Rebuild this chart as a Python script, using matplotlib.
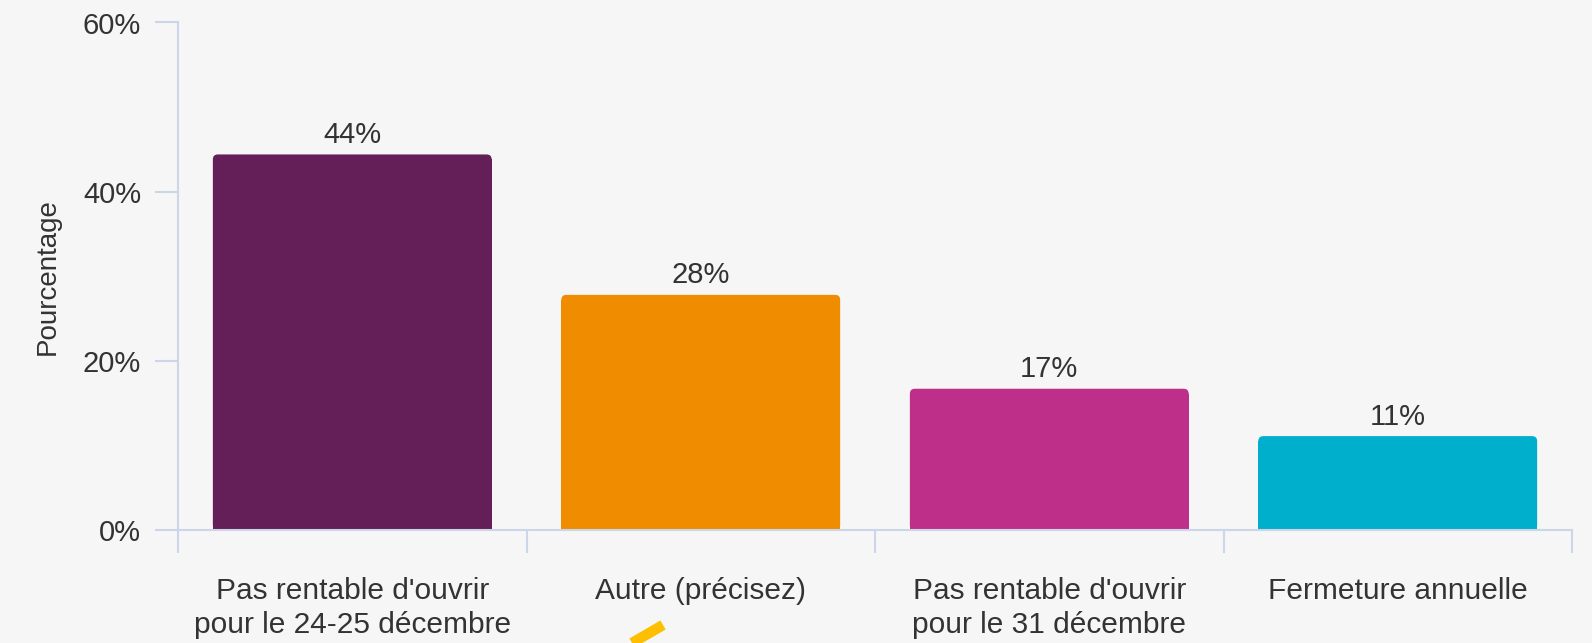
import numpy as np
import matplotlib.pyplot as plt
from matplotlib.patches import FancyBboxPatch, Rectangle
from matplotlib.lines import Line2D
from matplotlib.transforms import IdentityTransform

plt.rcParams['font.family'] = ['Liberation Sans', 'DejaVu Sans']

# data
categories = ["Pas rentable d'ouvrir\npour le 24-25 décembre",
              "Autre (précisez)",
              "Pas rentable d'ouvrir\npour le 31 décembre",
              "Fermeture annuelle"]
values = [44.4, 27.8, 16.7, 11.1]
bar_labels = ["44%", "28%", "17%", "11%"]
colors = ["#641e58", "#f08c00", "#be2f8a", "#00afcc"]
yticks = [0, 20, 40, 60]

axis_col = '#ccd6eb'
text_col = '#333333'

fig = plt.figure(figsize=(15.92, 6.43), dpi=100, facecolor='#f6f6f6')
ax = fig.add_axes([178/1592, 1-530/643, (1572-178)/1592, (530-22.5)/643])
ax.set_facecolor('none')

ax.set_xlim(-0.5, len(values)-0.5)
ax.set_ylim(0, 60)

x = np.arange(len(values))
w = 0.8
rad = 5  # corner radius, px
for xi, v, c, lab in zip(x, values, colors, bar_labels):
    # bar outline in pixels so the rounded top corners stay circular
    (x0, y0) = ax.transData.transform((xi-w/2, 0))
    (x1, y1) = ax.transData.transform((xi+w/2, v))
    ax.add_patch(FancyBboxPatch((x0, y0), x1-x0, y1-y0,
                                boxstyle=f"round,pad=0,rounding_size={rad}",
                                transform=IdentityTransform(), fc=c, ec='none',
                                lw=0, zorder=2, antialiased=True))
    ax.add_patch(Rectangle((x0, y0), x1-x0, (y1-y0)-rad, transform=IdentityTransform(),
                           fc=c, ec='none', lw=0, zorder=2))
    ax.annotate(lab, (xi, v), xytext=(0, 4), textcoords='offset points',
                ha='center', va='bottom', fontsize=21, color=text_col)

for s in ['top', 'right']:
    ax.spines[s].set_visible(False)
for s in ['left', 'bottom']:
    ax.spines[s].set_color(axis_col)
    ax.spines[s].set_linewidth(1.5)
    ax.spines[s].set_zorder(3)

ax.set_yticks(yticks)
ax.set_yticklabels([f"{t}%" for t in yticks])
ax.tick_params(axis='y', length=16.5, width=1.5, color=axis_col, labelsize=21,
               labelcolor=text_col, pad=10)

ax.set_xticks(np.arange(len(values)+1)-0.5)
ax.set_xticklabels([])
ax.set_xticks(x, minor=True)
ax.set_xticklabels(categories, minor=True, linespacing=1.25)
ax.tick_params(axis='x', which='major', length=16.5, width=1.5, color=axis_col)
ax.tick_params(axis='x', which='minor', length=0, labelsize=21.5,
               labelcolor=text_col, pad=34)

ax.set_ylabel('Pourcentage', fontsize=20, color=text_col, labelpad=16)

# yellow stroke at the bottom
fig.add_artist(Line2D([632/1592, 663/1592], [1-643/643, 1-625/643],
                      color='#fdbf00', lw=7.5, solid_capstyle='butt'))

fig.savefig('out.png', dpi=100, facecolor=fig.get_facecolor())
